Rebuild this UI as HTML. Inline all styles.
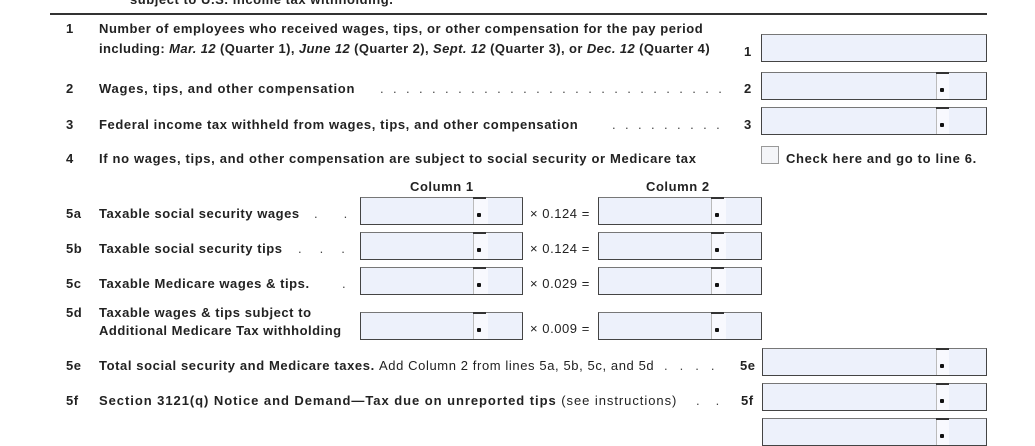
<!DOCTYPE html><html><head><style>
body{margin:0;width:1035px;height:425px;background:#fff;position:relative;overflow:hidden;font-family:"Liberation Sans",Arial,sans-serif;color:#222;filter:blur(0.3px)}
.t{position:absolute;font-size:13px;font-weight:bold;line-height:16px;white-space:nowrap;letter-spacing:0.55px}
.n{font-weight:normal}
.b{position:absolute;background:#edf1fb;border:1.5px solid #444;box-sizing:border-box;border-top-color:#777}
.b .w{position:absolute;top:0;bottom:0;background:#f8f9fe;border-left:1px solid #bbb}
.b .w:before{content:"";position:absolute;left:-1px;top:-1px;width:13px;height:2px;background:#333}
.b .w:after{content:"";position:absolute;left:3px;bottom:7px;width:4px;height:4px;background:#111;border-radius:1px}
.d{position:absolute;font-size:13px;line-height:16px;white-space:nowrap;letter-spacing:9.4px;color:#444}
</style></head><body>
<div class="t" style="left:130px;top:-8px">subject to U.S. income tax withholding.</div>
<div style="position:absolute;left:50px;top:13px;width:937px;height:2px;background:#333"></div>

<div class="t" style="left:66px;top:21px">1</div>
<div class="t" style="left:99px;top:21px">Number of employees who received wages, tips, or other compensation for the pay period</div>
<div class="t" style="left:99px;top:41px;letter-spacing:0.4px">including: <i>Mar. 12</i> (Quarter 1), <i>June 12</i> (Quarter 2), <i>Sept. 12</i> (Quarter 3), or <i>Dec. 12</i> (Quarter 4)</div>
<div class="t" style="left:744px;top:44px">1</div>
<div class="b" style="left:761px;top:34px;width:226px;height:28px"></div>

<div class="t" style="left:66px;top:81px">2</div>
<div class="t" style="left:99px;top:81px;letter-spacing:0.75px">Wages, tips, and other compensation</div>
<div class="d" style="left:380px;top:81px">...........................</div>
<div class="t" style="left:744px;top:81px">2</div>
<div class="b" style="left:761px;top:72px;width:226px;height:28px"><div class="w" style="left:174px;width:12px"></div></div>

<div class="t" style="left:66px;top:117px">3</div>
<div class="t" style="left:99px;top:117px;letter-spacing:0.6px">Federal income tax withheld from wages, tips, and other compensation</div>
<div class="d" style="left:612px;top:117px">.........</div>
<div class="t" style="left:744px;top:117px">3</div>
<div class="b" style="left:761px;top:107px;width:226px;height:28px"><div class="w" style="left:174px;width:12px"></div></div>

<div class="t" style="left:66px;top:151px">4</div>
<div class="t" style="left:99px;top:151px;letter-spacing:0.65px">If no wages, tips, and other compensation are subject to social security or Medicare tax</div>
<div style="position:absolute;left:761px;top:146px;width:18px;height:18px;border:1.5px solid #999;background:#f4f5f8;box-sizing:border-box"></div>
<div class="t" style="left:786px;top:151px;letter-spacing:0.65px">Check here and go to line 6.</div>

<div class="t" style="left:410px;top:179px">Column 1</div>
<div class="t" style="left:646px;top:179px">Column 2</div>

<div class="t" style="left:66px;top:206px">5a</div>
<div class="t" style="left:99px;top:206px">Taxable social security wages</div>
<div class="d" style="left:314px;top:206px;letter-spacing:26px">..</div>
<div class="t" style="left:66px;top:241px">5b</div>
<div class="t" style="left:99px;top:241px">Taxable social security tips</div>
<div class="d" style="left:298px;top:241px;letter-spacing:18px">...</div>
<div class="t" style="left:66px;top:276px">5c</div>
<div class="t" style="left:99px;top:276px">Taxable Medicare wages &amp; tips.</div>
<div class="d" style="left:342px;top:276px">.</div>
<div class="t" style="left:66px;top:305px">5d</div>
<div class="t" style="left:99px;top:305px">Taxable wages &amp; tips subject to</div>
<div class="t" style="left:99px;top:323px;letter-spacing:0.5px">Additional Medicare Tax withholding</div>

<div class="b" style="left:360px;top:197px;width:163px;height:28px"><div class="w" style="left:112px;width:14px"></div></div>
<div class="b" style="left:360px;top:232px;width:163px;height:28px"><div class="w" style="left:112px;width:14px"></div></div>
<div class="b" style="left:360px;top:267px;width:163px;height:28px"><div class="w" style="left:112px;width:14px"></div></div>
<div class="b" style="left:360px;top:312px;width:163px;height:28px"><div class="w" style="left:112px;width:14px"></div></div>

<div class="t n" style="left:530px;top:206px">× 0.124 =</div>
<div class="t n" style="left:530px;top:241px">× 0.124 =</div>
<div class="t n" style="left:530px;top:276px">× 0.029 =</div>
<div class="t n" style="left:530px;top:321px">× 0.009 =</div>

<div class="b" style="left:598px;top:197px;width:164px;height:28px"><div class="w" style="left:112px;width:14px"></div></div>
<div class="b" style="left:598px;top:232px;width:164px;height:28px"><div class="w" style="left:112px;width:14px"></div></div>
<div class="b" style="left:598px;top:267px;width:164px;height:28px"><div class="w" style="left:112px;width:14px"></div></div>
<div class="b" style="left:598px;top:312px;width:164px;height:28px"><div class="w" style="left:112px;width:14px"></div></div>

<div class="t" style="left:66px;top:358px">5e</div>
<div class="t" style="left:99px;top:358px;letter-spacing:0.6px">Total social security and Medicare taxes. <span class="n">Add Column 2 from lines 5a, 5b, 5c, and 5d</span></div>
<div class="d" style="left:664px;top:358px;letter-spacing:12px">....</div>
<div class="t" style="left:740px;top:358px">5e</div>
<div class="b" style="left:762px;top:348px;width:225px;height:28px"><div class="w" style="left:173px;width:12px"></div></div>

<div class="t" style="left:66px;top:393px">5f</div>
<div class="t" style="left:99px;top:393px;letter-spacing:0.95px">Section 3121(q) Notice and Demand—Tax due on unreported tips <span class="n">(see instructions)</span></div>
<div class="d" style="left:696px;top:393px;letter-spacing:16px">..</div>
<div class="t" style="left:741px;top:393px">5f</div>
<div class="b" style="left:762px;top:383px;width:225px;height:28px"><div class="w" style="left:173px;width:12px"></div></div>
<div class="b" style="left:762px;top:418px;width:225px;height:28px"><div class="w" style="left:173px;width:12px"></div></div>
</body></html>
